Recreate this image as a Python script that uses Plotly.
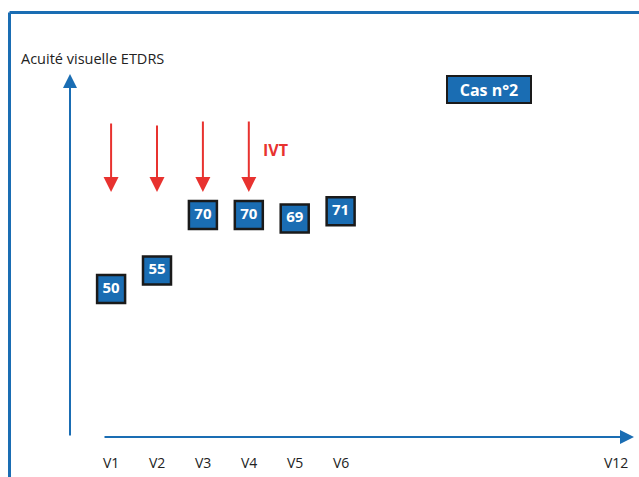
import plotly.graph_objects as go

# Visual acuity (ETDRS letters) at each visit
visits = [1, 2, 3, 4, 5, 6]
acuity = [50, 55, 70, 70, 69, 71]

# Visit axis ticks
tick_vals = [1, 2, 3, 4, 5, 6, 12]
tick_text = ["V1", "V2", "V3", "V4", "V5", "V6", "V12"]

# Visits with an intravitreal injection (IVT)
ivt_visits = [1, 2, 3, 4]
ivt_tail = [-70, -68, -72, -72]

BLUE = "#1a6db3"
RED = "#e8322f"
INK = "#222222"
FONT = "Open Sans"

W, H = 639, 477

fig = go.Figure()

fig.add_trace(go.Scatter(
    x=visits, y=acuity,
    mode="markers+text",
    marker=dict(symbol="square", size=28, color=BLUE,
                line=dict(color="#1a1a1a", width=2.5)),
    text=[str(v) for v in acuity],
    textposition="middle center",
    textfont=dict(family=FONT, size=15, color="white", weight="bold"),
    hoverinfo="skip", showlegend=False,
))

annotations = []

# Visit labels under the horizontal axis
for tv, tt in zip(tick_vals, tick_text):
    annotations.append(dict(
        x=tv, xref="x", y=(H - 462) / H, yref="paper",
        text=tt, showarrow=False,
        font=dict(family=FONT, size=14, color=INK),
        xanchor="center", yanchor="middle",
    ))

# Axis arrows
annotations.append(dict(
    x=70 / W, y=(H - 74) / H, xref="paper", yref="paper",
    text="", showarrow=True, ax=0, ay=363,
    arrowhead=2, arrowsize=1.4, arrowwidth=2, arrowcolor=BLUE,
))
annotations.append(dict(
    x=634 / W, y=(H - 437) / H, xref="paper", yref="paper",
    text="", showarrow=True, ax=-531, ay=0,
    arrowhead=2, arrowsize=1.4, arrowwidth=2, arrowcolor=BLUE,
))

# Injection arrows
for v, tail in zip(ivt_visits, ivt_tail):
    annotations.append(dict(
        x=v, xref="x", y=(H - 192) / H, yref="paper",
        text="", showarrow=True, ax=0, ay=tail,
        arrowhead=2, arrowsize=1.5, arrowwidth=2, arrowcolor=RED,
    ))

annotations.append(dict(
    x=275 / W, y=(H - 150) / H, xref="paper", yref="paper",
    text="<b>IVT</b>", showarrow=False,
    font=dict(family=FONT, size=16, color=RED),
    xanchor="center", yanchor="middle",
))

# Axis title
annotations.append(dict(
    x=19 / W, y=(H - 58) / H, xref="paper", yref="paper",
    text="Acuité visuelle ETDRS", showarrow=False,
    font=dict(family=FONT, size=14.5, color=INK),
    xanchor="left", yanchor="middle",
))

# Case label
annotations.append(dict(
    x=489 / W, y=(H - 89) / H, xref="paper", yref="paper",
    text="<b>Cas n°2</b>", showarrow=False,
    font=dict(family=FONT, size=16, color="white"),
    bgcolor=BLUE, bordercolor="#1a1a1a", borderwidth=2,
    width=82, height=25, borderpad=0,
    xanchor="center", yanchor="middle",
))

shapes = [
    # Frame: top and left edges
    dict(type="line", xref="paper", yref="paper",
         x0=9.5 / W, x1=1.0, y0=(H - 12.5) / H, y1=(H - 12.5) / H,
         line=dict(color=BLUE, width=3)),
    dict(type="line", xref="paper", yref="paper",
         x0=9.5 / W, x1=9.5 / W, y0=0, y1=(H - 12.5) / H,
         line=dict(color=BLUE, width=3)),
]

fig.update_layout(
    width=W, height=H,
    margin=dict(l=0, r=0, t=0, b=0),
    paper_bgcolor="white", plot_bgcolor="white",
    xaxis=dict(range=[-1.42, 12.50], visible=False, fixedrange=True),
    yaxis=dict(range=[-0.84, 128.08], visible=False, fixedrange=True),
    annotations=annotations,
    shapes=shapes,
    showlegend=False,
)

fig.write_html("out.html")
